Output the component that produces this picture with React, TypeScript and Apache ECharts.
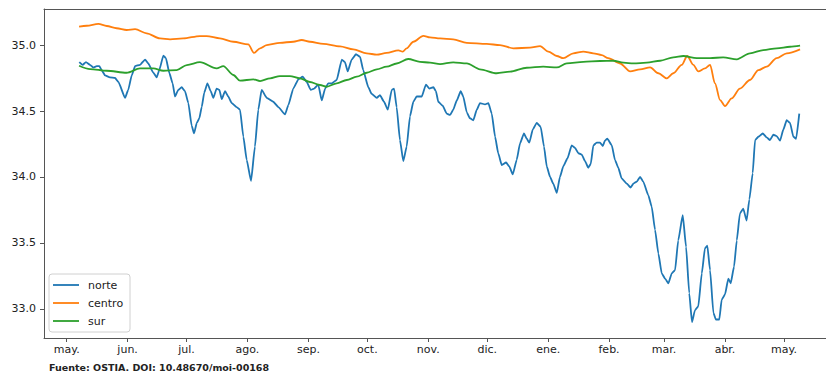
import React, { useEffect, useRef } from "react";
import * as echarts from "echarts";

// x = days since 1 May; y = salinity
const seriesNames = ["norte", "centro", "sur"];
const seriesColors = ["#1f77b4", "#ff7f0e", "#2ca02c"];

const monthStartDays = [0, 31, 61, 92, 123, 153, 184, 214, 245, 276, 304, 335, 365];
const monthLabels = ["may.", "jun.", "jul.", "ago.", "sep.", "oct.", "nov.", "dic.", "ene.", "feb.", "mar.", "abr.", "may."];
const yTicks = [33.0, 33.5, 34.0, 34.5, 35.0];
const sourceText = "Fuente: OSTIA. DOI: 10.48670/moi-00168";

const norte: [number, number][] = [
  [6.4, 34.87], [8.1, 34.85], [9.8, 34.87], [11.9, 34.85], [13.5, 34.83], [15.3, 34.84], [16.6, 34.84],
  [17.8, 34.81], [19.5, 34.77], [22, 34.755], [24.6, 34.75], [26.3, 34.72], [29.7, 34.6], [31.3, 34.66],
  [33.1, 34.77], [34.8, 34.84], [37.3, 34.85], [39.9, 34.89], [41.5, 34.86], [44.1, 34.79], [45.8, 34.755],
  [47.1, 34.81], [49.2, 34.92], [50.5, 34.9], [52.2, 34.79], [53.9, 34.71], [55.1, 34.61], [56.8, 34.66],
  [58.5, 34.68], [60.2, 34.65], [61.9, 34.56], [63.6, 34.39], [64.8, 34.33], [66.2, 34.41], [67.5, 34.445],
  [68.7, 34.53], [70, 34.64], [71.6, 34.71], [73.3, 34.65], [74.6, 34.6], [76.3, 34.67], [77.7, 34.66],
  [78.9, 34.59], [80.6, 34.65], [82.2, 34.61], [84, 34.56], [86.5, 34.53], [88.2, 34.51], [89.9, 34.305],
  [91.6, 34.13], [93.8, 33.97], [95.8, 34.23], [97.5, 34.51], [99.2, 34.66], [101.8, 34.6], [105.1, 34.57],
  [107.7, 34.53], [111.1, 34.475], [112.8, 34.545], [115.3, 34.67], [117.9, 34.74], [120.1, 34.76],
  [122.1, 34.72], [124.2, 34.66], [125.9, 34.67], [128, 34.7], [129.8, 34.58], [131.5, 34.67], [133.1, 34.71],
  [134.9, 34.71], [137.4, 34.735], [140, 34.89], [141.6, 34.87], [143, 34.8], [145, 34.89], [147.2, 34.93],
  [149.3, 34.91], [150.9, 34.81], [153.5, 34.68], [155.2, 34.63], [157.8, 34.6], [159.4, 34.62], [161.5, 34.57],
  [163.4, 34.51], [165.4, 34.66], [166.6, 34.67], [167.9, 34.53], [169.6, 34.28], [171.3, 34.12], [173, 34.23],
  [174.7, 34.46], [176.4, 34.57], [178.1, 34.61], [180.7, 34.61], [182.8, 34.7], [184.5, 34.67], [186.6, 34.68],
  [187.9, 34.65], [189.1, 34.57], [191.3, 34.54], [193.4, 34.48], [195.1, 34.47], [196.7, 34.51], [198.5, 34.58],
  [200.5, 34.65], [201.8, 34.61], [203.6, 34.49], [205.2, 34.445], [206.9, 34.43], [208.7, 34.51], [210.3, 34.56],
  [212.9, 34.55], [214.6, 34.56], [216.3, 34.48], [218, 34.305], [219.6, 34.18], [221.4, 34.09], [223.6, 34.11],
  [225.2, 34.08], [227, 34.02], [229, 34.13], [230.7, 34.255], [232.7, 34.33], [234.1, 34.29], [235.4, 34.26],
  [237.2, 34.36], [239.2, 34.41], [241.2, 34.38], [242.9, 34.23], [244.3, 34.08], [246, 34.0], [247.6, 33.95],
  [249.4, 33.88], [251, 34.0], [252.7, 34.08], [254.8, 34.14], [257, 34.24], [258.7, 34.22], [260.4, 34.18],
  [262.1, 34.17], [263.8, 34.12], [265.4, 34.07], [266.7, 34.1], [268, 34.24], [269.7, 34.26], [271.4, 34.26],
  [272.8, 34.235], [273.9, 34.275], [275.1, 34.29], [277.4, 34.24], [279, 34.13], [280.7, 34.07], [282.4, 33.99],
  [285, 33.95], [287, 33.92], [288.4, 33.95], [290.1, 33.965], [291.8, 34.0], [293.4, 33.965], [296, 33.86],
  [297.7, 33.775], [299.4, 33.6], [301.1, 33.42], [302.8, 33.27], [304.5, 33.23], [306.2, 33.195], [307.9, 33.27],
  [309.6, 33.295], [311.2, 33.52], [313.5, 33.71], [315.2, 33.47], [316.8, 33.12], [318.2, 32.9], [319.7, 32.99],
  [321.4, 33.02], [323.2, 33.27], [324.8, 33.46], [326, 33.48], [327.4, 33.295], [329.1, 32.97], [330.4, 32.92],
  [332.1, 32.92], [333.3, 33.07], [335, 33.11], [336.7, 33.23], [337.9, 33.195], [339.6, 33.32], [341, 33.52],
  [342.6, 33.725], [344.3, 33.76], [346, 33.67], [347.4, 33.83], [349.1, 34.03], [350.3, 34.28], [352, 34.305],
  [354.2, 34.33], [356.2, 34.3], [357.9, 34.28], [359.6, 34.32], [361.3, 34.31], [363, 34.275], [364.7, 34.36],
  [366.4, 34.43], [368.1, 34.41], [369.8, 34.305], [371.2, 34.29], [372.8, 34.48],
];

const centro: [number, number][] = [
  [6.3, 35.14], [10.2, 35.146], [16.1, 35.16], [20.4, 35.144], [25.4, 35.127], [30.5, 35.114], [34.8, 35.12],
  [40.7, 35.089], [47.5, 35.05], [52.6, 35.043], [59.3, 35.05], [67.8, 35.068], [71.2, 35.068], [78, 35.05],
  [84.8, 35.025], [92.4, 35.005], [95.3, 34.94], [98.4, 34.975], [101.8, 35.0], [108.5, 35.017], [115.3, 35.025],
  [119.6, 35.038], [123.8, 35.025], [130.6, 35.008], [139.1, 34.99], [145.9, 34.967], [152.7, 34.937],
  [157.8, 34.927], [162.8, 34.94], [168.8, 34.96], [171, 34.95], [173, 34.975], [176.4, 35.025], [181.5, 35.07],
  [184.9, 35.058], [190, 35.05], [196.7, 35.043], [203.6, 35.017], [213.7, 35.008], [220.5, 35.0], [227.3, 34.975],
  [235.8, 34.98], [240.9, 34.992], [245.1, 34.95], [249.4, 34.917], [252.7, 34.9], [257.8, 34.937], [262.9, 34.95],
  [268, 34.937], [272.3, 34.924], [275.6, 34.9], [281.6, 34.86], [286.7, 34.8], [291.8, 34.816], [296.9, 34.83],
  [301.1, 34.786], [305.3, 34.748], [308.7, 34.786], [313, 34.85], [315.8, 34.917], [318.9, 34.85], [321.4, 34.8],
  [324.8, 34.823], [327.4, 34.85], [329.9, 34.71], [332.5, 34.583], [335, 34.538], [338.4, 34.596], [342.6, 34.67],
  [347.7, 34.735], [352, 34.81], [356.2, 34.836], [361.3, 34.9], [366.4, 34.937], [373.2, 34.967],
];

const sur: [number, number][] = [
  [6.3, 34.843], [11.9, 34.818], [20.4, 34.805], [30.5, 34.79], [37.3, 34.823], [44.1, 34.823], [49.2, 34.805],
  [56, 34.81], [61.1, 34.848], [67.8, 34.87], [76.3, 34.823], [79.7, 34.84], [84.8, 34.773], [88.2, 34.73],
  [95, 34.74], [98.4, 34.727], [103.5, 34.748], [108.5, 34.765], [113.6, 34.765], [118.7, 34.748], [123.8, 34.72],
  [128.9, 34.697], [132.3, 34.684], [137.4, 34.71], [142.5, 34.735], [147.6, 34.76], [152.7, 34.79], [157.8, 34.816],
  [162.8, 34.836], [167.9, 34.86], [173.8, 34.894], [179.8, 34.873], [184.9, 34.866], [190, 34.856], [196.7, 34.869],
  [203.6, 34.861], [210.3, 34.816], [218.8, 34.786], [225.6, 34.798], [234.1, 34.828], [242.5, 34.836],
  [249.4, 34.83], [254.5, 34.861], [262.9, 34.873], [271.4, 34.879], [278.2, 34.881], [283.3, 34.866],
  [288.4, 34.861], [295.2, 34.866], [302, 34.881], [308.7, 34.907], [313.8, 34.917], [320.6, 34.9], [327.4, 34.9],
  [334.1, 34.907], [341, 34.892], [347.7, 34.937], [354.5, 34.962], [361.3, 34.975], [368.1, 34.987], [373.2, 34.995],
];

const seriesData = [norte, centro, sur];

export default function App() {
  const ref = useRef<HTMLDivElement>(null);
  useEffect(() => {
    if (!ref.current) return;
    const chart = echarts.init(ref.current, undefined, { renderer: "svg" });
    const font = "DejaVu Sans";
    const spine = "#555";
    const legendTop = 274;
    const rowH = 18;
    const legendGraphics: any[] = [
      {
        type: "rect",
        shape: { x: 49, y: legendTop, width: 81, height: 58, r: 3 },
        style: { fill: "rgba(255,255,255,0.85)", stroke: "#d0d0d0", lineWidth: 1 },
        z: 100,
      },
    ];
    seriesNames.forEach((name, i) => {
      const cy = legendTop + 11 + i * rowH;
      legendGraphics.push({
        type: "line",
        shape: { x1: 53, y1: cy, x2: 79, y2: cy },
        style: { stroke: seriesColors[i], lineWidth: 1.8 },
        z: 101,
      });
      legendGraphics.push({
        type: "text",
        x: 88,
        y: cy,
        style: { text: name, fill: "#222", font: `11px '${font}'`, textVerticalAlign: "middle", verticalAlign: "middle" },
        z: 101,
      });
    });
    const xMin = -11.55;
    const xMax = 386.4;
    chart.setOption({
      animation: false,
      grid: {
        left: 44,
        right: 0,
        top: 9,
        bottom: 34,
        show: false,
      },
      xAxis: [
        {
          type: "value",
          min: xMin,
          max: xMax,
          position: "bottom",
          splitLine: { show: false },
          axisLine: { show: true, onZero: false, lineStyle: { color: spine, width: 1 } },
          axisTick: {
            show: true,
            customValues: monthStartDays,
            length: 4,
            lineStyle: { color: spine, width: 1 },
          },
          axisLabel: {
            customValues: monthStartDays,
            formatter: (v: number) => {
              const idx = monthStartDays.indexOf(Math.round(v));
              return idx >= 0 ? monthLabels[idx] : "";
            },
            margin: 6,
            fontFamily: font,
            fontSize: 11,
            color: "#222",
          },
        },
        {
          type: "value",
          min: xMin,
          max: xMax,
          position: "top",
          splitLine: { show: false },
          axisLine: { show: true, onZero: false, lineStyle: { color: spine, width: 1 } },
          axisTick: { show: false },
          axisLabel: { show: false },
        },
      ],
      yAxis: {
        type: "value",
        min: 32.78,
        max: 35.273,
        splitLine: { show: false },
        axisLine: { show: true, onZero: false, lineStyle: { color: spine, width: 1 } },
        axisTick: {
          show: true,
          customValues: yTicks,
          length: 4,
          lineStyle: { color: spine, width: 1 },
        },
        axisLabel: {
          customValues: yTicks,
          formatter: (v: number) => v.toFixed(1),
          margin: 8,
          fontFamily: font,
          fontSize: 11,
          color: "#222",
        },
      },
      series: seriesNames.map((name, i) => ({
        name,
        type: "line",
        xAxisIndex: 0,
        data: seriesData[i],
        symbol: "none",
        showSymbol: false,
        smooth: i === 0 ? 0.15 : 0.3,
        smoothMonotone: "x",
        lineStyle: { color: seriesColors[i], width: 1.8 },
        itemStyle: { color: seriesColors[i] },
        clip: true,
      })),
      graphic: [
        ...legendGraphics,
        {
          type: "text",
          x: 49,
          y: 367,
          style: {
            text: sourceText,
            fill: "#222",
            font: `bold 9.5px '${font}'`,
            textVerticalAlign: "middle",
            verticalAlign: "middle",
          },
        },
      ],
    });
    return () => chart.dispose();
  }, []);
  return (
    <div
      ref={ref}
      style={{ position: "absolute", left: 0, top: 0, width: 826, height: 372, background: "#fff" }}
    />
  );
}
